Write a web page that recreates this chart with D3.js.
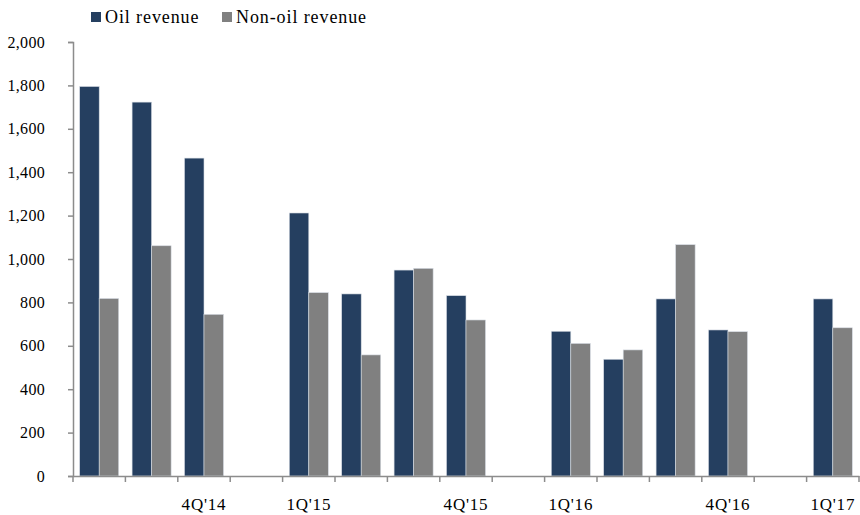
<!DOCTYPE html>
<html><head><meta charset="utf-8">
<script src="https://cdn.jsdelivr.net/npm/d3@7"></script>
<style>body{margin:0;background:#fff}svg{display:block}</style>
</head><body><svg id="c" width="860" height="515"></svg>
<script>
const categories = ["Q2'14","Q3'14","4Q'14","Q1'15x","1Q'15","Q2'15","Q3'15","4Q'15","Q4'15x","1Q'16","Q2'16","Q3'16","4Q'16","Q4'16x","1Q'17"];
const tickLabels = ["","","4Q'14","","1Q'15","","","4Q'15","","1Q'16","","","4Q'16","","1Q'17"];
const oilRevenue = [1795,1723,1465,null,1212,839,949,831,null,667,538,816,673,null,816];
const nonOilRevenue = [818,1061,745,null,845,558,957,719,null,611,581,1066,665,null,683];
const seriesNames = ["Oil revenue","Non-oil revenue"];
const colors = ["#253F60","#808080"];
const yTicks = [0,200,400,600,800,1000,1200,1400,1600,1800,2000];

const svg = d3.select("#c");
const m = {l:73, r:1, t:42, b:39};
const W = 860, H = 515;
const font = "'Liberation Serif', serif";

const x0 = d3.scaleBand().domain(d3.range(categories.length)).range([m.l, W-m.r]).paddingInner(0.255).paddingOuter(0.1275);
const x1 = d3.scaleBand().domain([0,1]).range([0, x0.bandwidth()]);
const y = d3.scaleLinear().domain([0,2000]).range([H-m.b, m.t]);

const series = [oilRevenue, nonOilRevenue];
series.forEach((vals, s) => {
  svg.append("g").selectAll("rect").data(vals.map((v,i)=>({v,i})).filter(d=>d.v!=null))
    .join("rect")
    .attr("x", d => x0(d.i) + x1(s))
    .attr("width", x1.bandwidth())
    .attr("y", d => y(d.v))
    .attr("height", d => y(0) - y(d.v))
    .attr("fill", colors[s])
    .attr("stroke", "#d8dde4").attr("stroke-width", 0.6);
});

// y axis
const yAxis = svg.append("g").attr("transform", `translate(${m.l},0)`)
  .call(d3.axisLeft(y).tickValues(yTicks).tickSize(5).tickPadding(23).tickFormat(d3.format(",")));
yAxis.select(".domain").attr("stroke","#8c8c8c").attr("stroke-width",1.5);
yAxis.selectAll(".tick line").attr("stroke","#8c8c8c").attr("stroke-width",1.5);
yAxis.selectAll("text").attr("font-family",font).attr("font-size",16).attr("fill","#000").attr("letter-spacing","0.3px");

// x axis
const xAxis = svg.append("g").attr("transform", `translate(0,${H-m.b})`)
  .call(d3.axisBottom(x0).tickSize(0).tickPadding(22).tickFormat(i => tickLabels[i]));
xAxis.select(".domain").attr("stroke","#8c8c8c").attr("stroke-width",1.5);
xAxis.selectAll("text").attr("font-family",font).attr("font-size",17).attr("fill","#000").attr("letter-spacing","0.8px");
const step = x0.step();
const start = x0.range()[0];
xAxis.selectAll("line.bt").data(d3.range(categories.length+1)).join("line").attr("class","bt")
  .attr("x1", i => start + i*step).attr("x2", i => start + i*step)
  .attr("y1", 0).attr("y2", 6).attr("stroke","#8c8c8c").attr("stroke-width",1.5);

// legend
const legend = svg.append("g");
const lx = [91, 222];
seriesNames.forEach((n, s) => {
  legend.append("rect").attr("x", lx[s]).attr("y", 12).attr("width", 10).attr("height", 10).attr("fill", colors[s]);
  legend.append("text").attr("x", lx[s]+14).attr("y", 23).text(n)
    .attr("font-family",font).attr("font-size",18).attr("letter-spacing","0.9px").attr("fill","#000");
});
</script></body></html>
